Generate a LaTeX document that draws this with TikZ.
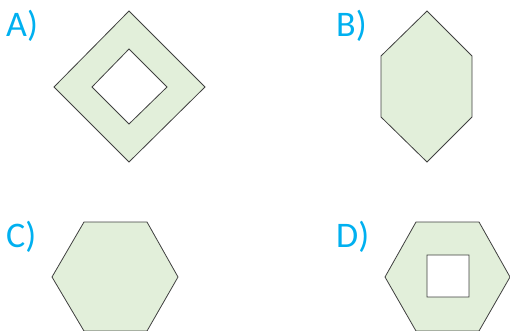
\documentclass[tikz,border=0pt]{standalone}
\usepackage{fontspec}
\setmainfont{Carlito}
\definecolor{shapefill}{HTML}{E2EFDA}
\definecolor{shapeline}{HTML}{404040}
\definecolor{labelblue}{HTML}{00B0F0}
\begin{document}
\begin{tikzpicture}[x=1pt,y=-1pt,
  shp/.style={draw=shapeline,fill=shapefill,line width=0.8pt,line join=miter,even odd rule},
  lbl/.style={text=labelblue,font=\fontsize{36}{36}\selectfont,anchor=base west,inner sep=0pt}]
\useasboundingbox (0,0) rectangle (510,331);
% A
\draw[shp] (129,11) -- (205,87) -- (129,162) -- (54,87) -- cycle
           (129,49) -- (167,87) -- (129,124) -- (92,87) -- cycle;
% B
\draw[shp] (427,11) -- (472,56) -- (472,117) -- (427,162) -- (381,117) -- (381,56) -- cycle;
% C
\draw[shp] (84,222) -- (147,222) -- (178,277) -- (147,331) -- (84,331) -- (52,277) -- cycle;
% D
\draw[shp] (416,222) -- (479,222) -- (510,277) -- (479,331) -- (416,331) -- (385,277) -- cycle
           (427,255) rectangle (469,297);
\node[lbl] (la) at (6,37) {A)};
\node[lbl] (lb) at (336,37) {B)};
\node[lbl] (lc) at (6,247) {C)};
\node[lbl] (ld) at (336,247) {D)};
\end{tikzpicture}
\end{document}
